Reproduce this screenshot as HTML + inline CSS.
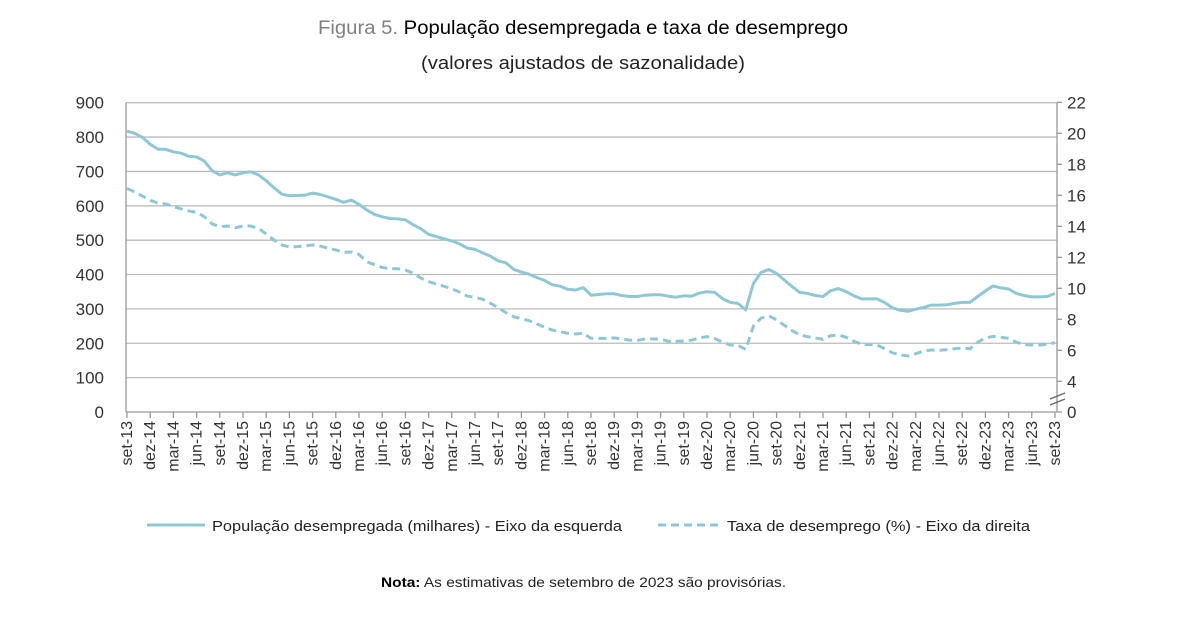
<!DOCTYPE html>
<html><head><meta charset="utf-8"><style>
html,body{margin:0;padding:0;background:#fff;}
svg{display:block;font-family:"Liberation Sans",sans-serif;}
</style></head><body>
<svg id="chart" width="1200" height="621" viewBox="0 0 1200 621">
<text x="583" y="34" text-anchor="middle" font-size="19" textLength="530" lengthAdjust="spacingAndGlyphs"><tspan fill="#808080">Figura 5. </tspan><tspan fill="#000">População desempregada e taxa de desemprego</tspan></text>
<text x="583" y="69" text-anchor="middle" font-size="18" fill="#222" textLength="324" lengthAdjust="spacingAndGlyphs">(valores ajustados de sazonalidade)</text>
<g id="grid"></g><g id="axes"></g><g id="series"></g>
<g>
<line x1="147" y1="525" x2="205" y2="525" stroke="#8ec8d4" stroke-width="3"/>
<text x="212" y="531" font-size="15" fill="#222" textLength="410" lengthAdjust="spacingAndGlyphs">População desempregada (milhares) - Eixo da esquerda</text>
<line x1="658" y1="525" x2="720" y2="525" stroke="#8ec8d4" stroke-width="3" stroke-dasharray="8,5"/>
<text x="727" y="531" font-size="15" fill="#222" textLength="303" lengthAdjust="spacingAndGlyphs">Taxa de desemprego (%) - Eixo da direita</text>
</g>
<text x="381" y="587" font-size="14" fill="#222" textLength="405" lengthAdjust="spacingAndGlyphs"><tspan font-weight="bold" fill="#000">Nota:</tspan> As estimativas de setembro de 2023 são provisórias.</text>
</svg>
<script>
const population = [817,811,799,779,765,764,757,753,744,742,730,702,690,696,690,696,699,690,673,653,634,629,630,631,637,633,626,619,610,617,604,588,575,568,563,562,559,545,533,517,511,504,498,489,477,473,463,453,440,434,415,407,401,391,383,370,366,357,355,362,340,342,344,344,339,336,336,340,341,341,337,334,338,337,346,350,348,330,319,316,297,374,406,415,403,384,365,348,345,339,336,353,359,350,338,329,329,329,318,303,296,293,299,304,311,311,312,316,319,319,336,352,367,361,358,345,339,335,335,336,345];
const rate = [16.45,16.21,15.95,15.68,15.5,15.44,15.27,15.12,14.99,14.9,14.62,14.15,13.98,14.02,13.91,14.02,14.02,13.87,13.5,13.12,12.8,12.67,12.69,12.73,12.8,12.72,12.59,12.48,12.32,12.34,12.19,11.72,11.52,11.35,11.26,11.26,11.18,10.97,10.66,10.43,10.28,10.13,9.97,9.76,9.5,9.42,9.29,9.03,8.75,8.43,8.17,8.04,7.91,7.7,7.48,7.31,7.2,7.1,7.05,7.1,6.77,6.77,6.77,6.8,6.73,6.66,6.65,6.73,6.73,6.73,6.58,6.58,6.6,6.65,6.8,6.88,6.77,6.52,6.34,6.32,6.06,7.57,8.08,8.21,7.97,7.61,7.27,7.0,6.88,6.8,6.71,6.94,6.99,6.84,6.58,6.39,6.37,6.34,6.1,5.83,5.7,5.63,5.78,5.95,6.02,6.0,6.04,6.1,6.15,6.1,6.52,6.8,6.9,6.84,6.77,6.52,6.37,6.34,6.34,6.39,6.5];
const leftTicks = [0,100,200,300,400,500,600,700,800,900];
const rightTicks = [0,4,6,8,10,12,14,16,18,20,22];
const monthNames = ["set","dez","mar","jun"];
const startYear = 13;

const NS="http://www.w3.org/2000/svg";
const X0=127, X1=1055, YT=102.7, YB=412, AXR=1057;
function x(i){return X0+(X1-X0)*i/(population.length-1);}
function yL(v){return YB-(YB-YT)*v/900;}
function yR(v){return v<=0?YB:381.3-(v-4)*15.5;}
function mk(tag,attrs,parent){const e=document.createElementNS(NS,tag);for(const k in attrs)e.setAttribute(k,attrs[k]);parent.appendChild(e);return e;}
const grid=document.getElementById('grid'),axes=document.getElementById('axes'),series=document.getElementById('series');

leftTicks.forEach(v=>{
  const y=yL(v);
  if(v>0){const g=mk('line',{x1:126,x2:AXR,y1:y,y2:y,stroke:'#bcbcbc','stroke-width':1.3},grid);
  
  }
  const t=mk('text',{x:104,y:y+6,'text-anchor':'end','font-size':17,fill:'#333'},axes);
  t.textContent=v;
  
  
});
rightTicks.forEach(v=>{
  const y=yR(v);
  const tk=mk('line',{x1:AXR,x2:AXR+5,y1:y,y2:y,stroke:'#999','stroke-width':1.3},axes);
  
  
  const t=mk('text',{x:1067,y:y+6,'font-size':17,fill:'#333'},axes);
  t.textContent=v;
  
  
});
let a=mk('line',{x1:126,x2:126,y1:YT,y2:YB,stroke:'#999','stroke-width':1.3},axes);


a=mk('line',{x1:AXR,x2:AXR,y1:YT,y2:YB,stroke:'#999','stroke-width':1.3},axes);


a=mk('line',{x1:126,x2:AXR,y1:YB,y2:YB,stroke:'#999','stroke-width':1.3},axes);


[0,6].forEach(d=>{
  const b=mk('line',{x1:AXR-7,x2:AXR+8,y1:399+d,y2:393+d,stroke:'#666','stroke-width':1.3},axes);
  
  
});
for(let i=0;i<population.length;i+=3){
  const xx=x(i);
  const tk=mk('line',{x1:xx,x2:xx,y1:YB,y2:YB+6,stroke:'#999','stroke-width':1.3},axes);
  
  
  const k=i/3, yr=startYear+Math.floor((k+3)/4);
  const t=mk('text',{x:0,y:0,'text-anchor':'end','font-size':16,fill:'#333',transform:`translate(${xx+5},${YB+9}) rotate(-90)`},axes);
  t.textContent=monthNames[k%4]+'-'+yr;
  
  
}
const p1=mk('polyline',{points:population.map((v,i)=>x(i).toFixed(1)+','+yL(v).toFixed(1)).join(' '),fill:'none',stroke:'#8ec8d4','stroke-width':3,'stroke-linejoin':'round'},series);


const p2=mk('polyline',{points:rate.map((v,i)=>x(i).toFixed(1)+','+yR(v).toFixed(1)).join(' '),fill:'none',stroke:'#8ec8d4','stroke-width':3,'stroke-dasharray':'8,5'},series);


</script>
</body></html>
